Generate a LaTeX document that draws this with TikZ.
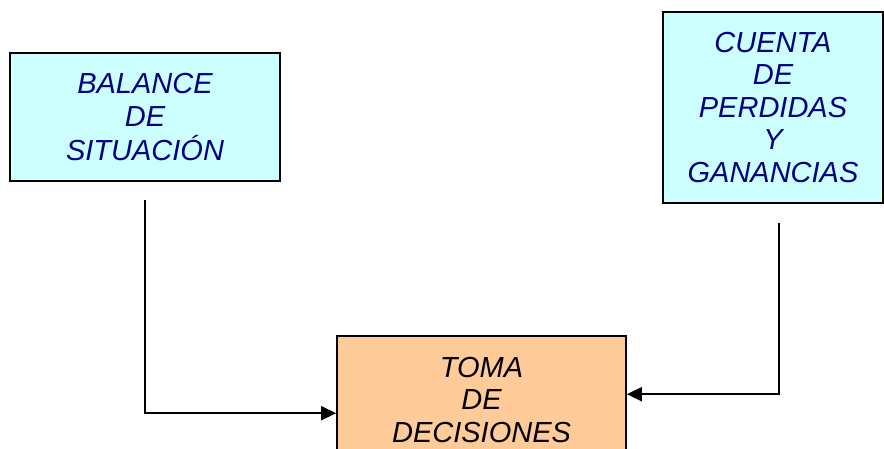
\documentclass[tikz,border=0pt]{standalone}
\usepackage{fontspec}
\setmainfont{Liberation Sans}
\usetikzlibrary{arrows.meta}
\definecolor{cajaazul}{HTML}{CCFFFF}
\definecolor{cajanaranja}{HTML}{FFCC99}
\definecolor{textoazul}{HTML}{000080}
\tikzset{
  caja/.style={draw=black,line width=1.6pt,inner sep=0pt,align=center,
    font=\fontsize{29}{33.5}\selectfont\itshape},
  flecha/.style={-{Triangle[length=15pt,width=14pt]},line width=1.5pt}
}
\begin{document}
\begin{tikzpicture}[x=1pt,y=-1pt]
\useasboundingbox (0,0) rectangle (884,449);
\node[caja,fill=cajaazul,text=textoazul,minimum width=270pt,minimum height=128pt]
  (balance) at (145,117) {BALANCE\\DE\\SITUACIÓN};
\node[caja,fill=cajaazul,text=textoazul,minimum width=220pt,minimum height=191pt,
  font=\fontsize{29}{32.5}\selectfont\itshape]
  (cuenta) at (773,107.5) {CUENTA\\DE\\PERDIDAS\\Y\\GANANCIAS};
\node[caja,fill=cajanaranja,text=black,minimum width=289pt,minimum height=128pt,
  font=\fontsize{29}{32.5}\selectfont\itshape]
  (toma) at (481.5,400) {TOMA\\DE\\DECISIONES};
\coordinate (bsal) at (145,200);
\coordinate (csal) at (779,223);
\draw[flecha] (bsal) |- ([yshift=-78pt]toma.north west);
\draw[flecha] (csal) |- ([yshift=-59pt]toma.north east);
\end{tikzpicture}
\end{document}
